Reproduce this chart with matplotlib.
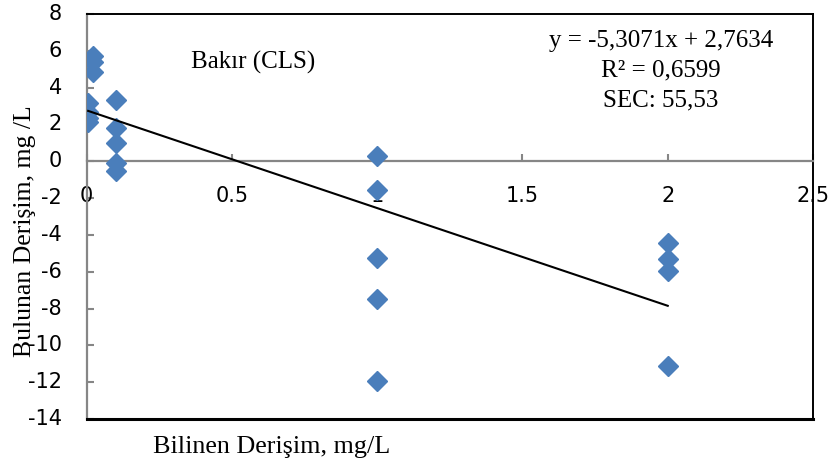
import matplotlib
matplotlib.use("Agg")
import matplotlib.pyplot as plt
import numpy as np

plt.rcParams["axes.unicode_minus"] = False

# Data
known = [0.02, 0.02, 0.02, 0.005, 0.005, 0.005, 0.005,
         0.1, 0.1, 0.1, 0.1, 0.1,
         1, 1, 1, 1, 1,
         2, 2, 2, 2]
found = [5.72, 5.41, 4.87, 3.16, 2.65, 2.35, 2.12,
         3.34, 1.80, 0.99, -0.09, -0.55,
         0.30, -1.58, -5.24, -7.50, -11.93,
         -4.43, -5.33, -5.97, -11.10]

slope = -5.3071
intercept = 2.7634
trend_x = [0.005, 2.0]

x_ticks = [0, 0.5, 1, 1.5, 2, 2.5]
x_tick_labels = ["0", "0.5", "1", "1.5", "2", "2.5"]
y_ticks = list(range(-14, 9, 2))
y_tick_labels = [str(v) for v in y_ticks]

title_text = "Bakır (CLS)"
eq_lines = ["y = -5,3071x + 2,7634", "R² = 0,6599", "SEC: 55,53"]
xlabel = "Bilinen Derişim, mg/L"
ylabel = "Bulunan Derişim, mg /L"

W, H = 833, 470
fig = plt.figure(figsize=(W / 100, H / 100), dpi=100)
ax = fig.add_axes([86.7 / W, 1 - 419 / H, (813 - 86.7) / W, (419 - 14) / H])

ax.set_xlim(0, 2.5)
ax.set_ylim(-14, 8)

ax.plot(known, found, linestyle="none", marker="D", markersize=10,
        color="#4A7EBB", markeredgecolor="#4A7EBB", zorder=3)

tx = np.array(trend_x)
ax.plot(tx, slope * tx + intercept, color="black", lw=1.5, zorder=4)

gray = "#868686"
ax.spines["left"].set_color(gray)
ax.spines["left"].set_linewidth(1.6)
ax.spines["bottom"].set_position(("data", 0))
ax.spines["bottom"].set_color(gray)
ax.spines["bottom"].set_linewidth(1.6)
for s in ("top", "right"):
    ax.spines[s].set_color("black")
    ax.spines[s].set_linewidth(1.4)
ax.plot([0, 1], [0, 0], transform=ax.transAxes, color="black", lw=2.2,
        clip_on=False, zorder=5)

ax.set_xticks(x_ticks)
ax.set_yticks(y_ticks)
ax.tick_params(axis="both", direction="in", length=5, width=1.5, color=gray,
               labelbottom=False, labelleft=False)

tick_font = "DejaVu Sans"
tick_size = 15
# x tick labels placed below the zero axis line
x_lab_off = -1.86
for xv, lab in zip(x_ticks, x_tick_labels):
    ax.text(xv, x_lab_off, lab, family=tick_font, fontsize=tick_size,
            ha="center", va="center", zorder=2)
# y tick labels to the left of the left spine
ytrans = ax.get_yaxis_transform()
for yv, lab in zip(y_ticks, y_tick_labels):
    ax.text(-0.034, yv, lab, family=tick_font, fontsize=tick_size,
            ha="right", va="center", transform=ytrans, clip_on=False)

serif = "Liberation Serif"
fig.text(253 / W, 1 - 62 / H, title_text, family=serif, fontsize=18,
         ha="center", va="center")
eq_y = [41, 70, 100]
for t, yy in zip(eq_lines, eq_y):
    fig.text(661 / W, 1 - yy / H, t, family=serif, fontsize=18,
             ha="center", va="center")

fig.text(272 / W, 1 - 447 / H, xlabel, family=serif, fontsize=18.8,
         ha="center", va="center")
fig.text(25 / W, 1 - 231 / H, ylabel, family=serif, fontsize=18.5,
         ha="center", va="center", rotation=90)

fig.savefig("out.png", dpi=100)
